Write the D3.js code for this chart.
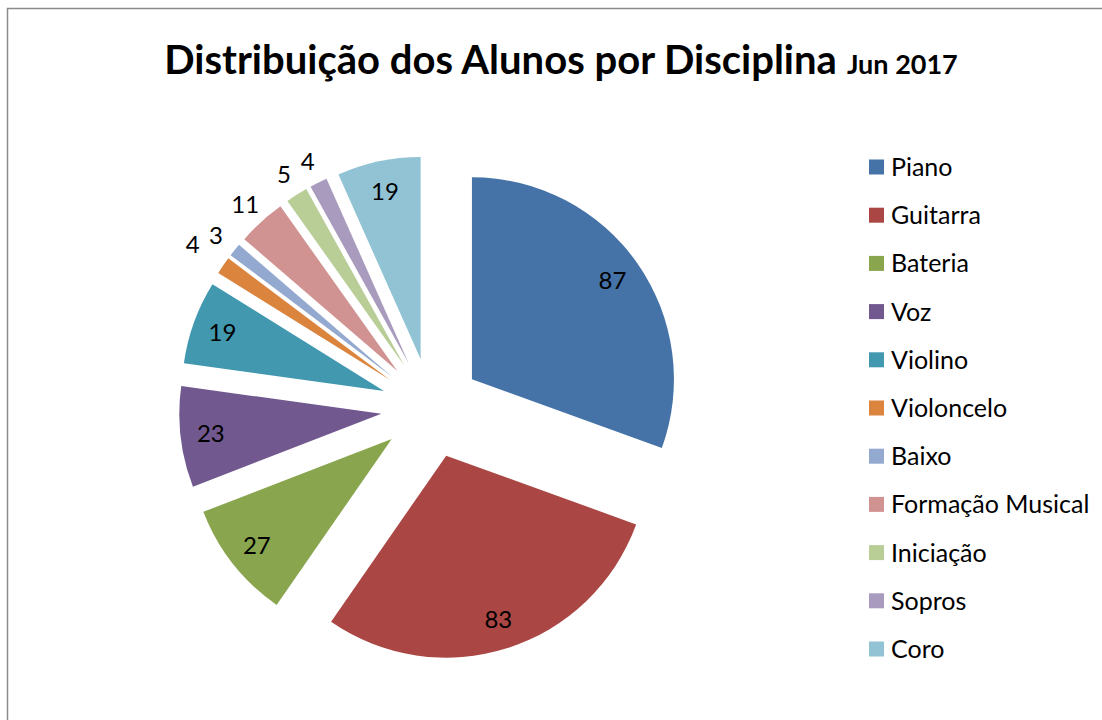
<!DOCTYPE html>
<html>
<head>
<meta charset="utf-8">
<script src="https://cdn.jsdelivr.net/npm/d3@7"></script>
<style>
  html, body { margin: 0; padding: 0; background: #fff; }
  svg { display: block; }
  text { font-family: Lato, "Open Sans", sans-serif; fill: #000; }
</style>
</head>
<body>
<svg id="chart" width="1102" height="720"></svg>
<script>
// Alunos por disciplina, Junho 2017
const disciplinas = ["Piano", "Guitarra", "Bateria", "Voz", "Violino", "Violoncelo",
                     "Baixo", "Formação Musical", "Iniciação", "Sopros", "Coro"];
const alunos = [87, 83, 27, 23, 19, 4, 3, 11, 5, 4, 19];
const cores = ["#4572A7", "#AA4643", "#89A54E", "#71588F", "#4198AF", "#DB843D",
               "#93A9CF", "#D19392", "#B9CD96", "#A99BBD", "#92C3D4"];
const tituloPrincipal = "Distribuição dos Alunos por Disciplina";
const tituloData = "Jun 2017";

const svg = d3.select("#chart");

// chart area frame
svg.append("rect")
  .attr("x", 7.5).attr("y", 8.5)
  .attr("width", 1200).attr("height", 800)
  .attr("fill", "#fff")
  .attr("stroke", "#8a8a8a").attr("stroke-width", 1.5);

// title
const title = svg.append("text")
  .attr("x", 561).attr("y", 74)
  .attr("text-anchor", "middle")
  .style("font-weight", "bold");
title.append("tspan").style("font-size", "40px").text(tituloPrincipal);
title.append("tspan").style("font-size", "27px").attr("dx", 10).text(tituloData);

// exploded pie
const cx = 431, cy = 408, radius = 202, explode = 50;
const pie = d3.pie().sort(null).value(d => d)(alunos);
const arc = d3.arc().innerRadius(0).outerRadius(radius);

const g = svg.append("g").attr("transform", `translate(${cx},${cy})`);

function dir(d) {
  const a = (d.startAngle + d.endAngle) / 2;
  return [Math.sin(a), -Math.cos(a)];
}

g.selectAll("path.slice")
  .data(pie)
  .join("path")
  .attr("class", "slice")
  .attr("d", arc)
  .attr("fill", (d, i) => cores[i])
  .attr("transform", d => {
    const [ux, uy] = dir(d);
    return `translate(${ux * explode},${uy * explode})`;
  });

// data labels: inside for wide slices, outside (with simple overlap avoidance) for narrow ones
const labelFont = 24;
const placed = [];
const labels = pie.map((d, i) => ({ d, i })).reverse().map(({ d, i }) => {
  const [ux, uy] = dir(d);
  const ox = ux * explode, oy = uy * explode;
  const span = d.endAngle - d.startAngle;
  const txt = String(alunos[i]);
  const w = txt.length * 14, h = 24;
  if (span > 0.35) {
    const r = radius * 0.85;
    return { i, txt, x: ox + ux * r, y: oy + uy * r };
  }
  let r = radius + 24, x, y;
  const overlaps = () => placed.some(p =>
    Math.abs(p.x - x) < (p.w + w) / 2 + 9 && Math.abs(p.y - y) < (p.h + h) / 2);
  do {
    x = ox + ux * r; y = oy + uy * r; r += 1;
  } while (overlaps() && r < radius + 120);
  placed.push({ x, y, w, h });
  return { i, txt, x, y };
});

g.selectAll("text.lbl")
  .data(labels)
  .join("text")
  .attr("class", "lbl")
  .attr("x", d => d.x)
  .attr("y", d => d.y)
  .attr("text-anchor", "middle")
  .attr("dy", "0.36em")
  .style("font-size", labelFont + "px")
  .text(d => d.txt);

// legend
const legend = svg.append("g").attr("transform", "translate(869,167)");
const rowStep = 48.2;
const items = legend.selectAll("g")
  .data(disciplinas)
  .join("g")
  .attr("transform", (d, i) => `translate(0,${i * rowStep})`);
items.append("rect")
  .attr("x", 0).attr("y", -7.5)
  .attr("width", 15).attr("height", 15)
  .attr("fill", (d, i) => cores[i]);
items.append("text")
  .attr("x", 22).attr("y", 0)
  .attr("dy", "0.36em")
  .style("font-size", "25px")
  .text(d => d);
</script>
</body>
</html>
